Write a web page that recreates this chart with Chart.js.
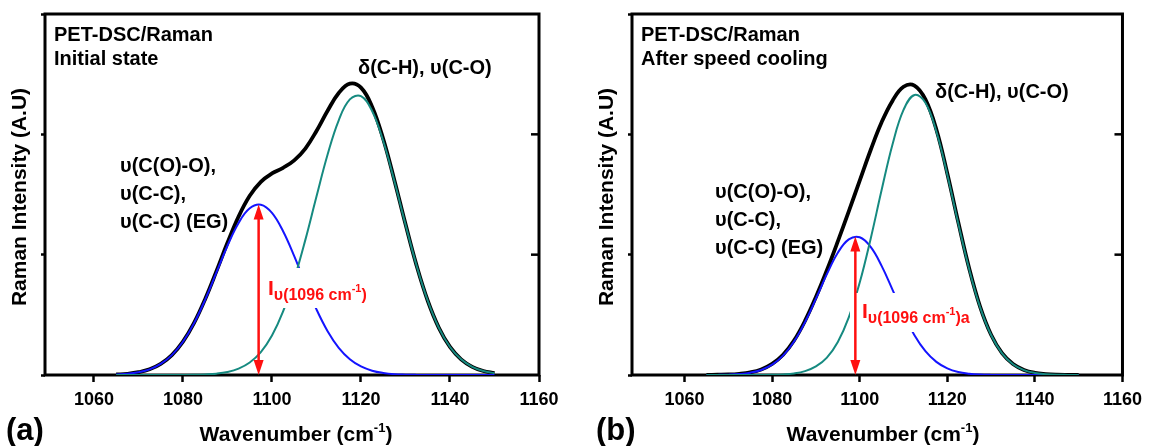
<!DOCTYPE html>
<html>
<head>
<meta charset="utf-8">
<script src="https://cdn.jsdelivr.net/npm/chart.js@4.4.1/dist/chart.umd.min.js"></script>
<style>
  body { margin: 0; background: #fff; }
  #wrap { position: relative; width: 1149px; height: 446px; }
  canvas { position: absolute; top: 0; }
</style>
</head>
<body>
<div id="wrap">
  <canvas id="graficoInicial" width="575" height="446" style="left:0px"></canvas>
  <canvas id="graficoResfriado" width="574" height="446" style="left:575px"></canvas>
</div>
<script>
// dados (intensidade em unidades arbitrarias)
var numerosOnda = [1065, 1067.5, 1070, 1072.5, 1075, 1077.5, 1080, 1082.5, 1085, 1087.5,
  1090, 1092.5, 1095, 1097.5, 1100, 1102.5, 1105, 1107.5, 1110, 1112.5,
  1115, 1117.5, 1120, 1122.5, 1125, 1127.5, 1130, 1132.5, 1135, 1137.5,
  1140, 1142.5, 1145, 1147.5, 1150];

// (a) estado inicial
var totalInicial = [0.004, 0.010, 0.023, 0.047, 0.092, 0.165, 0.277, 0.433, 0.632, 0.861,
  1.099, 1.317, 1.489, 1.605, 1.675, 1.722, 1.784, 1.882, 2.028, 2.196,
  2.343, 2.421, 2.388, 2.230, 1.961, 1.619, 1.254, 0.909, 0.617, 0.392,
  0.233, 0.130, 0.068, 0.033, 0.015];
var banda1096Inicial = [0.004, 0.010, 0.023, 0.047, 0.092, 0.165, 0.276, 0.431, 0.627, 0.850,
  1.074, 1.264, 1.385, 1.415, 1.347, 1.194, 0.987, 0.759, 0.545, 0.364,
  0.226, 0.131, 0.071, 0.036, 0.017, 0.007, 0.003, 0.001, 0, 0,
  0, 0, 0, 0, 0];
var banda1118Inicial = [0, 0, 0, 0, 0.0001, 0.0002, 0.0007, 0.002, 0.005, 0.011,
  0.025, 0.053, 0.104, 0.190, 0.328, 0.528, 0.797, 1.123, 1.483, 1.832,
  2.117, 2.290, 2.317, 2.194, 1.944, 1.612, 1.251, 0.908, 0.617, 0.392,
  0.233, 0.130, 0.068, 0.033, 0.015];

// (b) depois do resfriamento rapido
var totalResfriado = [0.0005, 0.002, 0.004, 0.010, 0.022, 0.046, 0.092, 0.168, 0.286, 0.449,
  0.648, 0.870, 1.110, 1.360, 1.615, 1.870, 2.100, 2.280, 2.395, 2.405,
  2.290, 2.040, 1.675, 1.270, 0.885, 0.566, 0.334, 0.181, 0.091, 0.042,
  0.018, 0.008, 0.003, 0.001, 0];
var banda1096Resfriado = [0.0003, 0.001, 0.003, 0.008, 0.019, 0.042, 0.086, 0.161, 0.278, 0.439,
  0.634, 0.838, 1.016, 1.127, 1.145, 1.065, 0.907, 0.708, 0.506, 0.331,
  0.198, 0.109, 0.055, 0.025, 0.011, 0.004, 0.001, 0, 0, 0,
  0, 0, 0, 0, 0];
var banda1113Resfriado = [0, 0, 0, 0, 0.0002, 0.0006, 0.0017, 0.005, 0.013, 0.032,
  0.071, 0.145, 0.275, 0.479, 0.768, 1.133, 1.537, 1.918, 2.203, 2.327,
  2.263, 2.023, 1.665, 1.260, 0.878, 0.562, 0.332, 0.180, 0.090, 0.041,
  0.017, 0.007, 0.002, 0.001, 0];

var ticksOnda = [1060, 1080, 1100, 1120, 1140, 1160];
var ticksIntensidade = [0, 1, 2, 3];
var setaOnda = [1097, 1099];        // posicao da seta vermelha (a), (b)
var setaAltura = [1.417, 1.15];     // topo da seta = pico da banda 1096

var FONTE = '"Liberation Sans", Arial, sans-serif';

function PegarPontos(valores) {
  return numerosOnda.map(function (x, i) { return { x: x, y: valores[i] }; });
}

function EscreverComposto(ctx, x, y, partes) {
  partes.forEach(function (p) {
    ctx.font = 'bold ' + p[1] + 'px ' + FONTE;
    ctx.fillText(p[0], x, y + p[2]);
    x += ctx.measureText(p[0]).width;
  });
  return x;
}

function LarguraComposta(ctx, partes) {
  var w = 0;
  partes.forEach(function (p) {
    ctx.font = 'bold ' + p[1] + 'px ' + FONTE;
    w += ctx.measureText(p[0]).width;
  });
  return w;
}

function CriarGrafico(id, total, bandaBaixa, bandaAlta, minX, idx, painel) {
  var ctx = document.getElementById(id).getContext('2d');

  var moldura = {
    id: 'moldura',
    beforeDatasetsDraw: function (chart) {
      var a = chart.chartArea, c = chart.ctx, sy = chart.scales.y;
      c.save();
      c.strokeStyle = '#000';
      c.lineWidth = 3;
      c.strokeRect(a.left, a.top, a.right - a.left, a.bottom - a.top);
      c.lineWidth = 2.5;
      [1, 2].forEach(function (v) {
        var y = sy.getPixelForValue(v);
        c.beginPath();
        c.moveTo(a.right, y);
        c.lineTo(a.right - 8, y);
        c.stroke();
      });
      c.restore();
    }
  };

  var anotacoes = {
    id: 'anotacoes',
    afterDraw: function (chart) {
      var c = chart.ctx, sx = chart.scales.x, sy = chart.scales.y;
      c.save();
      c.textAlign = 'left';
      c.textBaseline = 'alphabetic';

      // caixa branca por tras do rotulo vermelho
      c.fillStyle = '#fff';
      c.fillRect(painel.caixa[0], painel.caixa[1], painel.caixa[2], painel.caixa[3]);

      c.fillStyle = '#000';
      c.font = 'bold 20px ' + FONTE;
      c.fillText('PET-DSC/Raman', painel.titulo[0], 41);
      c.fillText(painel.estado, painel.titulo[0], 65);
      c.fillText('\u03c5(C(O)-O),', painel.bandas[0], painel.bandas[1]);
      c.fillText('\u03c5(C-C),', painel.bandas[0], painel.bandas[1] + 28);
      c.fillText('\u03c5(C-C) (EG)', painel.bandas[0], painel.bandas[1] + 56);
      c.fillText('\u03b4(C-H), \u03c5(C-O)', painel.delta[0], painel.delta[1]);

      // rotulo vermelho
      c.fillStyle = '#ff1010';
      var partes = [['I', 21, 0], ['\u03c5(1096 cm', 16, 4.5], ['-1', 11, -3], [')', 16, 4.5]];
      if (painel.sufixo) partes.push([painel.sufixo, 16, 4.5]);
      EscreverComposto(c, painel.rotulo[0], painel.rotulo[1], partes);

      // seta dupla
      var xs = sx.getPixelForValue(setaOnda[idx]);
      var yt = sy.getPixelForValue(setaAltura[idx]);
      var yb = sy.getPixelForValue(0);
      c.strokeStyle = '#ff1010';
      c.lineWidth = 2.5;
      c.beginPath();
      c.moveTo(xs, yt + 10);
      c.lineTo(xs, yb - 10);
      c.stroke();
      c.beginPath();
      c.moveTo(xs, yt);
      c.lineTo(xs - 5, yt + 15);
      c.lineTo(xs + 5, yt + 15);
      c.closePath();
      c.moveTo(xs, yb);
      c.lineTo(xs - 5, yb - 15);
      c.lineTo(xs + 5, yb - 15);
      c.closePath();
      c.fill();

      // titulos dos eixos
      c.fillStyle = '#000';
      var tituloX = [['Wavenumber (cm', 21, 0], ['-1', 13, -9], [')', 21, 0]];
      var w = LarguraComposta(c, tituloX);
      EscreverComposto(c, painel.eixoX - w / 2, 441, tituloX);

      c.save();
      c.translate(painel.eixoY, 197);
      c.rotate(-Math.PI / 2);
      c.textAlign = 'center';
      c.textBaseline = 'middle';
      c.font = 'bold 21px ' + FONTE;
      c.fillText('Raman Intensity (A.U)', 0, 0);
      c.restore();

      c.font = 'bold 31px ' + FONTE;
      c.fillText(painel.letra, painel.posLetra, 440);
      c.restore();
    }
  };

  var estiloLinha = {
    showLine: true,
    pointRadius: 0,
    fill: false,
    tension: 0.4
  };

  return new Chart(ctx, {
    type: 'scatter',
    data: {
      datasets: [
        Object.assign({ label: 'Total', data: PegarPontos(total), borderColor: '#000000', borderWidth: 3.8, order: 3 }, estiloLinha),
        Object.assign({ label: '1096', data: PegarPontos(bandaBaixa), borderColor: '#1414ff', borderWidth: 2, order: 2 }, estiloLinha),
        Object.assign({ label: 'alta', data: PegarPontos(bandaAlta), borderColor: '#168a80', borderWidth: 2, order: 1 }, estiloLinha)
      ]
    },
    options: {
      responsive: false,
      animation: false,
      layout: { padding: { top: 14, right: painel.dir, left: 0, bottom: 0 } },
      plugins: {
        legend: { display: false },
        tooltip: { enabled: false }
      },
      scales: {
        x: {
          type: 'linear',
          min: minX,
          max: 1160,
          afterBuildTicks: function (s) { s.ticks = ticksOnda.map(function (v) { return { value: v }; }); },
          afterFit: function (s) { s.height = 71; },
          border: { display: false },
          grid: { drawOnChartArea: false, drawTicks: true, tickLength: 7, tickWidth: 2.5, tickColor: '#000' },
          ticks: {
            autoSkip: false,
            maxRotation: 0,
            padding: 7,
            color: '#000',
            font: { family: FONTE, size: 18, weight: 'bold' },
            callback: function (v) { return String(v); }
          }
        },
        y: {
          type: 'linear',
          min: 0,
          max: 3,
          afterBuildTicks: function (s) { s.ticks = ticksIntensidade.map(function (v) { return { value: v }; }); },
          afterFit: function (s) { s.width = painel.esq; },
          border: { display: false },
          grid: { drawOnChartArea: false, drawTicks: true, tickLength: 4, tickWidth: 2.5, tickColor: '#000' },
          ticks: { display: false }
        }
      }
    },
    plugins: [moldura, anotacoes]
  });
}

CriarGrafico('graficoInicial', totalInicial, banda1096Inicial, banda1118Inicial, 1049, 0, {
  esq: 45, dir: 36,
  estado: 'Initial state',
  titulo: [54], bandas: [120, 172], delta: [358, 74],
  caixa: [262, 268, 112, 40], rotulo: [268, 295], sufixo: '',
  eixoX: 296, eixoY: 20, letra: '(a)', posLetra: 6
});

CriarGrafico('graficoResfriado', totalResfriado, banda1096Resfriado, banda1113Resfriado, 1048, 1, {
  esq: 57, dir: 22,
  estado: 'After speed cooling',
  titulo: [66], bandas: [140, 198], delta: [360, 98],
  caixa: [275, 293, 120, 39], rotulo: [287, 318], sufixo: 'a',
  eixoX: 308, eixoY: 32, letra: '(b)', posLetra: 21
});
</script>
</body>
</html>
